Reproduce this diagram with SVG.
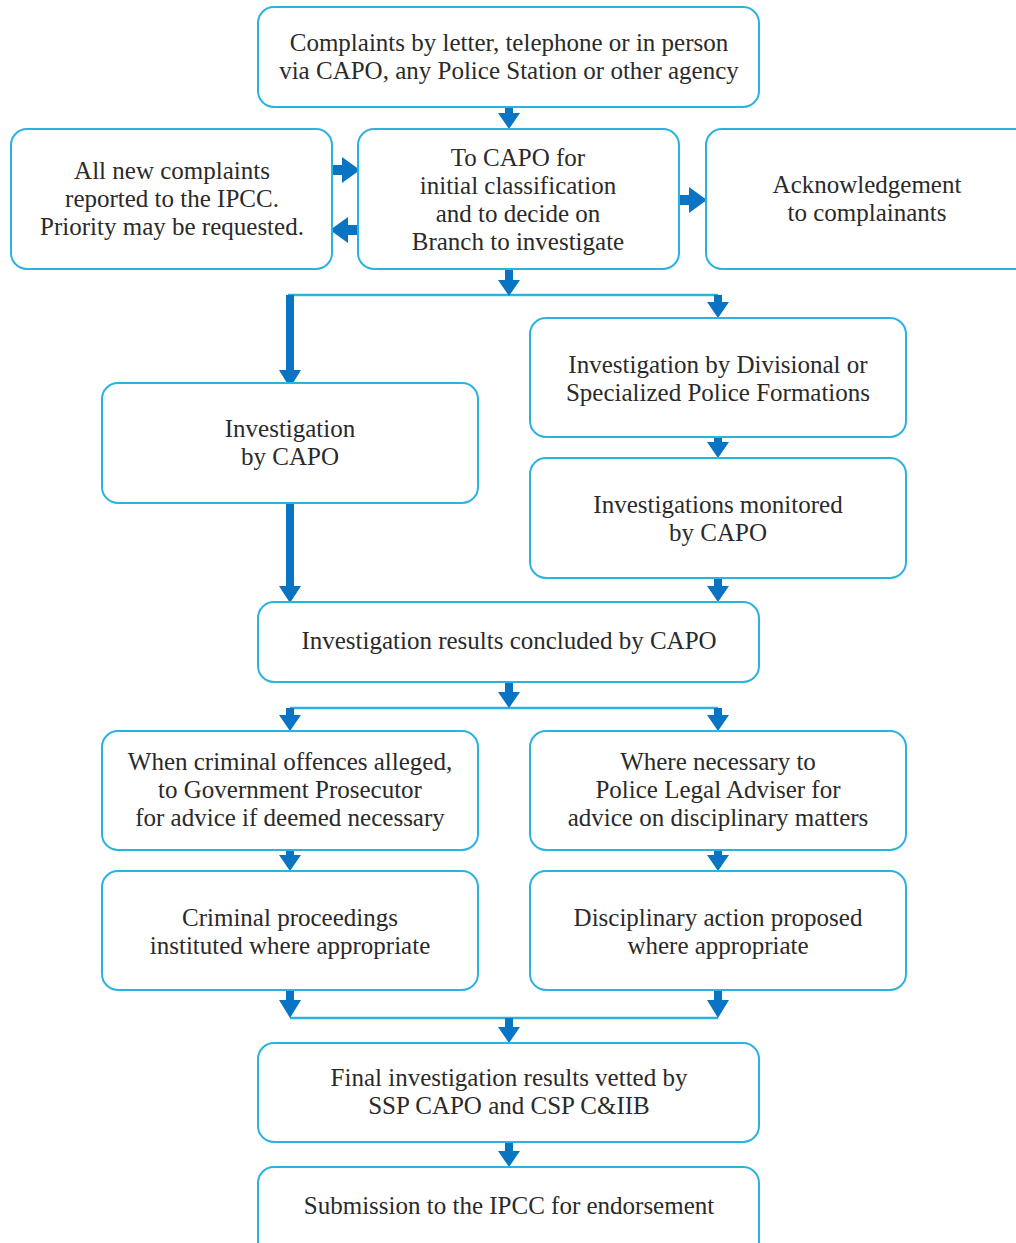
<svg xmlns="http://www.w3.org/2000/svg" width="1016" height="1243" viewBox="0 0 1016 1243">
<style>
.box{fill:#ffffff;stroke:#2bb3e0;stroke-width:2}
.t{font-family:'Liberation Serif','DejaVu Serif',serif;font-size:25px;fill:#2a2a2a;text-anchor:middle}
.arr{fill:#0a74c4}
.ln{fill:none;stroke:#2bb3e0;stroke-width:2.5}
</style>
<rect width="1016" height="1243" fill="#ffffff"/>
<g id="connectors">
<path class="ln" d="M288 295 H718"/>
<path class="ln" d="M290 708 H718"/>
<path class="ln" d="M290 1018 H718"/>
<path class="arr" d="M505 107 H513 V113 H520 L509 129 L498 113 H505 Z"/>
<path class="arr" d="M332 165 H342 V157 L360 170 L342 183 V175 H332 Z"/>
<path class="arr" d="M358 225 H348 V217 L330 230 L348 243 V235 H358 Z"/>
<path class="arr" d="M679 195 H689 V187 L707 200 L689 213 V205 H679 Z"/>
<path class="arr" d="M505 269 H513 V280 H520 L509 296 L498 280 H505 Z"/>
<path class="arr" d="M286 295 H294 V370 H301 L290 388 L279 370 H286 Z"/>
<path class="arr" d="M714 295 H722 V302 H729 L718 318 L707 302 H714 Z"/>
<path class="arr" d="M714 437 H722 V442 H729 L718 458 L707 442 H714 Z"/>
<path class="arr" d="M286 503 H294 V586 H301 L290 603 L279 586 H286 Z"/>
<path class="arr" d="M714 578 H722 V586 H729 L718 602 L707 586 H714 Z"/>
<path class="arr" d="M505 682 H513 V692 H520 L509 708 L498 692 H505 Z"/>
<path class="arr" d="M286 708 H294 V715 H301 L290 731 L279 715 H286 Z"/>
<path class="arr" d="M714 708 H722 V715 H729 L718 731 L707 715 H714 Z"/>
<path class="arr" d="M286 850 H294 V855 H301 L290 871 L279 855 H286 Z"/>
<path class="arr" d="M714 850 H722 V855 H729 L718 871 L707 855 H714 Z"/>
<path class="arr" d="M286 990 H294 V1000 H301 L290 1018 L279 1000 H286 Z"/>
<path class="arr" d="M714 990 H722 V1000 H729 L718 1018 L707 1000 H714 Z"/>
<path class="arr" d="M505 1018 H513 V1027 H520 L509 1043 L498 1027 H505 Z"/>
<path class="arr" d="M505 1142 H513 V1151 H520 L509 1167 L498 1151 H505 Z"/>
</g>
<g font-family="Liberation Serif, DejaVu Serif, serif">
<g id="n1"><rect class="box" x="258" y="7" width="501" height="100" rx="16"/>
<text class="t" x="509" y="51">Complaints by letter, telephone or in person</text>
<text class="t" x="509" y="79">via CAPO, any Police Station or other agency</text></g>
<g id="n2"><rect class="box" x="11" y="129" width="321" height="140" rx="16"/>
<text class="t" x="172" y="179">All new complaints</text>
<text class="t" x="172" y="207">reported to the IPCC.</text>
<text class="t" x="172" y="235">Priority may be requested.</text></g>
<g id="n3"><rect class="box" x="358" y="129" width="321" height="140" rx="16"/>
<text class="t" x="518" y="166">To CAPO for</text>
<text class="t" x="518" y="194">initial classification</text>
<text class="t" x="518" y="222">and to decide on</text>
<text class="t" x="518" y="250">Branch to investigate</text></g>
<g id="n4"><rect class="box" x="706" y="129" width="330" height="140" rx="16"/>
<text class="t" x="867" y="193">Acknowledgement</text>
<text class="t" x="867" y="221">to complainants</text></g>
<g id="n5"><rect class="box" x="102" y="383" width="376" height="120" rx="16"/>
<text class="t" x="290" y="437">Investigation</text>
<text class="t" x="290" y="465">by CAPO</text></g>
<g id="n6"><rect class="box" x="530" y="318" width="376" height="119" rx="16"/>
<text class="t" x="718" y="373">Investigation by Divisional or</text>
<text class="t" x="718" y="401">Specialized Police Formations</text></g>
<g id="n7"><rect class="box" x="530" y="458" width="376" height="120" rx="16"/>
<text class="t" x="718" y="513">Investigations monitored</text>
<text class="t" x="718" y="541">by CAPO</text></g>
<g id="n8"><rect class="box" x="258" y="602" width="501" height="80" rx="16"/>
<text class="t" x="509" y="649">Investigation results concluded by CAPO</text></g>
<g id="n9"><rect class="box" x="102" y="731" width="376" height="119" rx="16"/>
<text class="t" x="290" y="770">When criminal offences alleged,</text>
<text class="t" x="290" y="798">to Government Prosecutor</text>
<text class="t" x="290" y="826">for advice if deemed necessary</text></g>
<g id="n10"><rect class="box" x="530" y="731" width="376" height="119" rx="16"/>
<text class="t" x="718" y="770">Where necessary to</text>
<text class="t" x="718" y="798">Police Legal Adviser for</text>
<text class="t" x="718" y="826">advice on disciplinary matters</text></g>
<g id="n11"><rect class="box" x="102" y="871" width="376" height="119" rx="16"/>
<text class="t" x="290" y="926">Criminal proceedings</text>
<text class="t" x="290" y="954">instituted where appropriate</text></g>
<g id="n12"><rect class="box" x="530" y="871" width="376" height="119" rx="16"/>
<text class="t" x="718" y="926">Disciplinary action proposed</text>
<text class="t" x="718" y="954">where appropriate</text></g>
<g id="n13"><rect class="box" x="258" y="1043" width="501" height="99" rx="16"/>
<text class="t" x="509" y="1086">Final investigation results vetted by</text>
<text class="t" x="509" y="1114">SSP CAPO and CSP C&amp;IIB</text></g>
<g id="n14"><rect class="box" x="258" y="1167" width="501" height="100" rx="16"/>
<text class="t" x="509" y="1214">Submission to the IPCC for endorsement</text></g>
</g>
</svg>
